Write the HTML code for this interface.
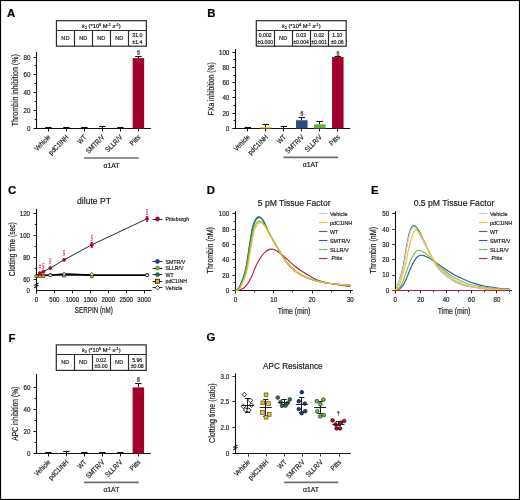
<!DOCTYPE html>
<html><head><meta charset="utf-8"><style>
html,body{margin:0;padding:0;background:#fff;}
svg{display:block;will-change:transform;}
text{font-family:"Liberation Sans",sans-serif;stroke-width:0.2px;}
</style></head><body>
<svg width="520" height="500" viewBox="0 0 520 500">
<rect x="0" y="0" width="520" height="500" fill="#fff"/>
<text x="7" y="16.6" font-size="11.4" text-anchor="start" fill="#000" font-weight="bold"  stroke="#000">A</text>
<text x="207.3" y="16.6" font-size="11.4" text-anchor="start" fill="#000" font-weight="bold"  stroke="#000">B</text>
<text x="8" y="194.1" font-size="11.4" text-anchor="start" fill="#000" font-weight="bold"  stroke="#000">C</text>
<text x="206.7" y="193.7" font-size="11.4" text-anchor="start" fill="#000" font-weight="bold"  stroke="#000">D</text>
<text x="371" y="194.1" font-size="11.4" text-anchor="start" fill="#000" font-weight="bold"  stroke="#000">E</text>
<text x="8.6" y="341.6" font-size="11.4" text-anchor="start" fill="#000" font-weight="bold"  stroke="#000">F</text>
<text x="206.6" y="341.2" font-size="11.4" text-anchor="start" fill="#000" font-weight="bold"  stroke="#000">G</text>
<rect x="56.45" y="20.7" width="89.9" height="25.5" fill="none" stroke="#2a2a2a" stroke-width="1.2"/>
<line x1="56.45" y1="30.5" x2="146.35" y2="30.5" stroke="#2a2a2a" stroke-width="1.15" />
<line x1="74.5" y1="30.5" x2="74.5" y2="46.2" stroke="#2a2a2a" stroke-width="1.15" />
<line x1="92.5" y1="30.5" x2="92.5" y2="46.2" stroke="#2a2a2a" stroke-width="1.15" />
<line x1="110.5" y1="30.5" x2="110.5" y2="46.2" stroke="#2a2a2a" stroke-width="1.15" />
<line x1="128.5" y1="30.5" x2="128.5" y2="46.2" stroke="#2a2a2a" stroke-width="1.15" />
<text x="101.4" y="27.7" font-size="5.4" text-anchor="middle" fill="#1e1e1e" textLength="38.7" lengthAdjust="spacingAndGlyphs" stroke="#1e1e1e"><tspan font-style="italic">k</tspan><tspan font-size="3.6" dy="1">2</tspan><tspan dy="-1"> (*10</tspan><tspan font-size="3.6" dy="-2.2">6</tspan><tspan dy="2.2"> M</tspan><tspan font-size="3.6" dy="-2.2">-1</tspan><tspan dy="2.2"> s</tspan><tspan font-size="3.6" dy="-2.2">-1</tspan><tspan dy="2.2">)</tspan></text>
<text x="65.4" y="40.1" font-size="5.2" text-anchor="middle" fill="#333" textLength="8.2" lengthAdjust="spacingAndGlyphs"  stroke="#333">ND</text>
<text x="83.3" y="40.1" font-size="5.2" text-anchor="middle" fill="#333" textLength="8.2" lengthAdjust="spacingAndGlyphs"  stroke="#333">ND</text>
<text x="101.25" y="40.1" font-size="5.2" text-anchor="middle" fill="#333" textLength="8.2" lengthAdjust="spacingAndGlyphs"  stroke="#333">ND</text>
<text x="119.3" y="40.1" font-size="5.2" text-anchor="middle" fill="#333" textLength="8.2" lengthAdjust="spacingAndGlyphs"  stroke="#333">ND</text>
<text x="137.35" y="37.4" font-size="5.2" text-anchor="middle" fill="#1e1e1e"  stroke="#1e1e1e">31.0</text>
<text x="137.35" y="43.5" font-size="5.2" text-anchor="middle" fill="#1e1e1e"  stroke="#1e1e1e">±1.4</text>
<rect x="256.3" y="20.7" width="89.9" height="25.5" fill="none" stroke="#2a2a2a" stroke-width="1.2"/>
<line x1="256.3" y1="30.5" x2="346.2" y2="30.5" stroke="#2a2a2a" stroke-width="1.15" />
<line x1="274.5" y1="30.5" x2="274.5" y2="46.2" stroke="#2a2a2a" stroke-width="1.15" />
<line x1="292.5" y1="30.5" x2="292.5" y2="46.2" stroke="#2a2a2a" stroke-width="1.15" />
<line x1="310.5" y1="30.5" x2="310.5" y2="46.2" stroke="#2a2a2a" stroke-width="1.15" />
<line x1="328.5" y1="30.5" x2="328.5" y2="46.2" stroke="#2a2a2a" stroke-width="1.15" />
<text x="301.25" y="27.7" font-size="5.4" text-anchor="middle" fill="#1e1e1e" textLength="38.7" lengthAdjust="spacingAndGlyphs" stroke="#1e1e1e"><tspan font-style="italic">k</tspan><tspan font-size="3.6" dy="1">2</tspan><tspan dy="-1"> (*10</tspan><tspan font-size="3.6" dy="-2.2">4</tspan><tspan dy="2.2"> M</tspan><tspan font-size="3.6" dy="-2.2">-1</tspan><tspan dy="2.2"> s</tspan><tspan font-size="3.6" dy="-2.2">-1</tspan><tspan dy="2.2">)</tspan></text>
<text x="265.25" y="37.4" font-size="5.2" text-anchor="middle" fill="#1e1e1e"  stroke="#1e1e1e">0.002</text>
<text x="265.25" y="43.5" font-size="5.2" text-anchor="middle" fill="#1e1e1e"  stroke="#1e1e1e">±0.000</text>
<text x="283.15" y="40.1" font-size="5.2" text-anchor="middle" fill="#333" textLength="8.2" lengthAdjust="spacingAndGlyphs"  stroke="#333">ND</text>
<text x="301.1" y="37.4" font-size="5.2" text-anchor="middle" fill="#1e1e1e"  stroke="#1e1e1e">0.03</text>
<text x="301.1" y="43.5" font-size="5.2" text-anchor="middle" fill="#1e1e1e"  stroke="#1e1e1e">±0.004</text>
<text x="319.15" y="37.4" font-size="5.2" text-anchor="middle" fill="#1e1e1e"  stroke="#1e1e1e">0.02</text>
<text x="319.15" y="43.5" font-size="5.2" text-anchor="middle" fill="#1e1e1e"  stroke="#1e1e1e">±0.001</text>
<text x="337.2" y="37.4" font-size="5.2" text-anchor="middle" fill="#1e1e1e"  stroke="#1e1e1e">1.10</text>
<text x="337.2" y="43.5" font-size="5.2" text-anchor="middle" fill="#1e1e1e"  stroke="#1e1e1e">±0.06</text>
<rect x="56.3" y="344.9" width="89.9" height="25.5" fill="none" stroke="#2a2a2a" stroke-width="1.2"/>
<line x1="56.3" y1="354.5" x2="146.2" y2="354.5" stroke="#2a2a2a" stroke-width="1.15" />
<line x1="74.5" y1="354.7" x2="74.5" y2="370.4" stroke="#2a2a2a" stroke-width="1.15" />
<line x1="92.5" y1="354.7" x2="92.5" y2="370.4" stroke="#2a2a2a" stroke-width="1.15" />
<line x1="110.5" y1="354.7" x2="110.5" y2="370.4" stroke="#2a2a2a" stroke-width="1.15" />
<line x1="128.5" y1="354.7" x2="128.5" y2="370.4" stroke="#2a2a2a" stroke-width="1.15" />
<text x="101.25" y="351.9" font-size="5.4" text-anchor="middle" fill="#1e1e1e" textLength="38.7" lengthAdjust="spacingAndGlyphs" stroke="#1e1e1e"><tspan font-style="italic">k</tspan><tspan font-size="3.6" dy="1">2</tspan><tspan dy="-1"> (*10</tspan><tspan font-size="3.6" dy="-2.2">6</tspan><tspan dy="2.2"> M</tspan><tspan font-size="3.6" dy="-2.2">-1</tspan><tspan dy="2.2"> s</tspan><tspan font-size="3.6" dy="-2.2">-1</tspan><tspan dy="2.2">)</tspan></text>
<text x="65.25" y="364.3" font-size="5.2" text-anchor="middle" fill="#333" textLength="8.2" lengthAdjust="spacingAndGlyphs"  stroke="#333">ND</text>
<text x="83.15" y="364.3" font-size="5.2" text-anchor="middle" fill="#333" textLength="8.2" lengthAdjust="spacingAndGlyphs"  stroke="#333">ND</text>
<text x="101.1" y="361.6" font-size="5.2" text-anchor="middle" fill="#1e1e1e"  stroke="#1e1e1e">0.02</text>
<text x="101.1" y="367.7" font-size="5.2" text-anchor="middle" fill="#1e1e1e"  stroke="#1e1e1e">±0.00</text>
<text x="119.15" y="364.3" font-size="5.2" text-anchor="middle" fill="#333" textLength="8.2" lengthAdjust="spacingAndGlyphs"  stroke="#333">ND</text>
<text x="137.2" y="361.6" font-size="5.2" text-anchor="middle" fill="#1e1e1e"  stroke="#1e1e1e">5.96</text>
<text x="137.2" y="367.7" font-size="5.2" text-anchor="middle" fill="#1e1e1e"  stroke="#1e1e1e">±0.08</text>
<line x1="36.5" y1="52" x2="36.5" y2="129" stroke="#111" stroke-width="1.1" />
<line x1="33.5" y1="128.5" x2="36.5" y2="128.5" stroke="#111" stroke-width="1" />
<text x="30.4" y="130.95" font-size="7" text-anchor="end" fill="#1e1e1e" textLength="3.45" lengthAdjust="spacingAndGlyphs"  stroke="#1e1e1e">0</text>
<line x1="33.5" y1="110.5" x2="36.5" y2="110.5" stroke="#111" stroke-width="1" />
<text x="30.4" y="113.09" font-size="7" text-anchor="end" fill="#1e1e1e" textLength="6.9" lengthAdjust="spacingAndGlyphs"  stroke="#1e1e1e">20</text>
<line x1="33.5" y1="92.5" x2="36.5" y2="92.5" stroke="#111" stroke-width="1" />
<text x="30.4" y="95.23" font-size="7" text-anchor="end" fill="#1e1e1e" textLength="6.9" lengthAdjust="spacingAndGlyphs"  stroke="#1e1e1e">40</text>
<line x1="33.5" y1="74.5" x2="36.5" y2="74.5" stroke="#111" stroke-width="1" />
<text x="30.4" y="77.37" font-size="7" text-anchor="end" fill="#1e1e1e" textLength="6.9" lengthAdjust="spacingAndGlyphs"  stroke="#1e1e1e">60</text>
<line x1="33.5" y1="57.5" x2="36.5" y2="57.5" stroke="#111" stroke-width="1" />
<text x="30.4" y="59.51" font-size="7" text-anchor="end" fill="#1e1e1e" textLength="6.9" lengthAdjust="spacingAndGlyphs"  stroke="#1e1e1e">80</text>
<line x1="34.7" y1="119.5" x2="36.5" y2="119.5" stroke="#111" stroke-width="1" />
<line x1="34.7" y1="101.5" x2="36.5" y2="101.5" stroke="#111" stroke-width="1" />
<line x1="34.7" y1="83.5" x2="36.5" y2="83.5" stroke="#111" stroke-width="1" />
<line x1="34.7" y1="65.5" x2="36.5" y2="65.5" stroke="#111" stroke-width="1" />
<line x1="36" y1="128.5" x2="150.8" y2="128.5" stroke="#111" stroke-width="1.1" />
<line x1="48.5" y1="128.5" x2="48.5" y2="131.5" stroke="#111" stroke-width="1" />
<line x1="66.5" y1="128.5" x2="66.5" y2="131.5" stroke="#111" stroke-width="1" />
<line x1="84.5" y1="128.5" x2="84.5" y2="131.5" stroke="#111" stroke-width="1" />
<line x1="102.5" y1="128.5" x2="102.5" y2="131.5" stroke="#111" stroke-width="1" />
<line x1="120.5" y1="128.5" x2="120.5" y2="131.5" stroke="#111" stroke-width="1" />
<line x1="138.5" y1="128.5" x2="138.5" y2="131.5" stroke="#111" stroke-width="1" />
<line x1="48.5" y1="127.43" x2="48.5" y2="128.14" stroke="#111" stroke-width="1" />
<line x1="45.2" y1="127.5" x2="51.6" y2="127.5" stroke="#111" stroke-width="1.1" />
<line x1="66.5" y1="127.6" x2="66.5" y2="128.32" stroke="#111" stroke-width="1" />
<line x1="63.2" y1="127.5" x2="69.6" y2="127.5" stroke="#111" stroke-width="1.1" />
<line x1="84.5" y1="127.52" x2="84.5" y2="128.23" stroke="#111" stroke-width="1" />
<line x1="81.2" y1="127.5" x2="87.6" y2="127.5" stroke="#111" stroke-width="1.1" />
<line x1="102.5" y1="126.71" x2="102.5" y2="128.32" stroke="#111" stroke-width="1" />
<line x1="99.2" y1="126.5" x2="105.6" y2="126.5" stroke="#111" stroke-width="1.1" />
<line x1="120.5" y1="127.6" x2="120.5" y2="128.41" stroke="#111" stroke-width="1" />
<line x1="117.2" y1="127.5" x2="123.6" y2="127.5" stroke="#111" stroke-width="1.1" />
<rect x="132.65" y="58.13" width="11.5" height="70.37" fill="#a1002b" stroke="none" stroke-width="0" />
<line x1="138.5" y1="56.35" x2="138.5" y2="58.13" stroke="#111" stroke-width="1" />
<line x1="135.2" y1="56.5" x2="141.6" y2="56.5" stroke="#111" stroke-width="1.1" />
<text x="138.5" y="54.35" font-size="5.9" text-anchor="middle" fill="#333"  stroke="#333">§</text>
<text x="51" y="137.7" font-size="7" text-anchor="end" fill="#1e1e1e" transform="rotate(-45 51 137.7)" textLength="19.67" lengthAdjust="spacingAndGlyphs"  stroke="#1e1e1e">Vehicle</text>
<text x="69" y="137.7" font-size="7" text-anchor="end" fill="#1e1e1e" transform="rotate(-45 69 137.7)" textLength="25.09" lengthAdjust="spacingAndGlyphs"  stroke="#1e1e1e">pdC1INH</text>
<text x="87" y="137.7" font-size="7" text-anchor="end" fill="#1e1e1e" transform="rotate(-45 87 137.7)" textLength="9.48" lengthAdjust="spacingAndGlyphs"  stroke="#1e1e1e">WT</text>
<text x="105" y="137.7" font-size="7" text-anchor="end" fill="#1e1e1e" transform="rotate(-45 105 137.7)" textLength="23.04" lengthAdjust="spacingAndGlyphs"  stroke="#1e1e1e">SMTR/V</text>
<text x="123" y="137.7" font-size="7" text-anchor="end" fill="#1e1e1e" transform="rotate(-45 123 137.7)" textLength="21.02" lengthAdjust="spacingAndGlyphs"  stroke="#1e1e1e">SLLR/V</text>
<text x="141" y="137.7" font-size="7" text-anchor="end" fill="#1e1e1e" transform="rotate(-45 141 137.7)" textLength="11.86" lengthAdjust="spacingAndGlyphs"  stroke="#1e1e1e">Pitts</text>
<line x1="84.1" y1="158" x2="138.7" y2="158" stroke="#707070" stroke-width="1.7" />
<text x="111.4" y="167.6" font-size="6.8" text-anchor="middle" fill="#1e1e1e"  stroke="#1e1e1e">α1AT</text>
<text x="18.2" y="90.25" font-size="8.2" text-anchor="middle" fill="#1e1e1e" transform="rotate(-90 18.2 90.25)" textLength="72" lengthAdjust="spacingAndGlyphs" stroke="#1e1e1e">Thrombin inhibition (%)</text>
<line x1="235.5" y1="49" x2="235.5" y2="128.9" stroke="#111" stroke-width="1.1" />
<line x1="232.4" y1="128.5" x2="235.4" y2="128.5" stroke="#111" stroke-width="1" />
<text x="229.3" y="130.85" font-size="7" text-anchor="end" fill="#1e1e1e" textLength="3.45" lengthAdjust="spacingAndGlyphs"  stroke="#1e1e1e">0</text>
<line x1="232.4" y1="113.5" x2="235.4" y2="113.5" stroke="#111" stroke-width="1" />
<text x="229.3" y="115.64" font-size="7" text-anchor="end" fill="#1e1e1e" textLength="6.9" lengthAdjust="spacingAndGlyphs"  stroke="#1e1e1e">20</text>
<line x1="232.4" y1="97.5" x2="235.4" y2="97.5" stroke="#111" stroke-width="1" />
<text x="229.3" y="100.43" font-size="7" text-anchor="end" fill="#1e1e1e" textLength="6.9" lengthAdjust="spacingAndGlyphs"  stroke="#1e1e1e">40</text>
<line x1="232.4" y1="82.5" x2="235.4" y2="82.5" stroke="#111" stroke-width="1" />
<text x="229.3" y="85.22" font-size="7" text-anchor="end" fill="#1e1e1e" textLength="6.9" lengthAdjust="spacingAndGlyphs"  stroke="#1e1e1e">60</text>
<line x1="232.4" y1="67.5" x2="235.4" y2="67.5" stroke="#111" stroke-width="1" />
<text x="229.3" y="70.01" font-size="7" text-anchor="end" fill="#1e1e1e" textLength="6.9" lengthAdjust="spacingAndGlyphs"  stroke="#1e1e1e">80</text>
<line x1="232.4" y1="52.5" x2="235.4" y2="52.5" stroke="#111" stroke-width="1" />
<text x="229.3" y="54.8" font-size="7" text-anchor="end" fill="#1e1e1e" textLength="10.35" lengthAdjust="spacingAndGlyphs"  stroke="#1e1e1e">100</text>
<line x1="233.6" y1="120.5" x2="235.4" y2="120.5" stroke="#111" stroke-width="1" />
<line x1="233.6" y1="105.5" x2="235.4" y2="105.5" stroke="#111" stroke-width="1" />
<line x1="233.6" y1="90.5" x2="235.4" y2="90.5" stroke="#111" stroke-width="1" />
<line x1="233.6" y1="75.5" x2="235.4" y2="75.5" stroke="#111" stroke-width="1" />
<line x1="233.6" y1="59.5" x2="235.4" y2="59.5" stroke="#111" stroke-width="1" />
<line x1="234.9" y1="128.5" x2="350.2" y2="128.5" stroke="#111" stroke-width="1.1" />
<line x1="247.5" y1="128.4" x2="247.5" y2="131.4" stroke="#111" stroke-width="1" />
<line x1="265.5" y1="128.4" x2="265.5" y2="131.4" stroke="#111" stroke-width="1" />
<line x1="283.5" y1="128.4" x2="283.5" y2="131.4" stroke="#111" stroke-width="1" />
<line x1="301.5" y1="128.4" x2="301.5" y2="131.4" stroke="#111" stroke-width="1" />
<line x1="319.5" y1="128.4" x2="319.5" y2="131.4" stroke="#111" stroke-width="1" />
<line x1="337.5" y1="128.4" x2="337.5" y2="131.4" stroke="#111" stroke-width="1" />
<line x1="247.5" y1="127.41" x2="247.5" y2="128.17" stroke="#111" stroke-width="1" />
<line x1="244.6" y1="127.5" x2="251" y2="127.5" stroke="#111" stroke-width="1.1" />
<rect x="260.05" y="127.18" width="11.5" height="1.22" fill="#efb400" stroke="none" stroke-width="0" />
<line x1="265.5" y1="124.29" x2="265.5" y2="127.18" stroke="#111" stroke-width="1" />
<line x1="262.6" y1="124.5" x2="269" y2="124.5" stroke="#111" stroke-width="1.1" />
<line x1="283.5" y1="126.5" x2="283.5" y2="128.32" stroke="#111" stroke-width="1" />
<line x1="280.6" y1="126.5" x2="287" y2="126.5" stroke="#111" stroke-width="1.1" />
<rect x="296.05" y="120.26" width="11.5" height="8.14" fill="#2b4b86" stroke="none" stroke-width="0" />
<line x1="301.5" y1="117.07" x2="301.5" y2="120.26" stroke="#111" stroke-width="1" />
<line x1="298.6" y1="117.5" x2="305" y2="117.5" stroke="#111" stroke-width="1.1" />
<text x="301.9" y="115.07" font-size="5.9" text-anchor="middle" fill="#333"  stroke="#333">§</text>
<rect x="314.05" y="124.29" width="11.5" height="4.11" fill="#6aac3c" stroke="none" stroke-width="0" />
<line x1="319.5" y1="121.56" x2="319.5" y2="124.29" stroke="#111" stroke-width="1" />
<line x1="316.6" y1="121.5" x2="323" y2="121.5" stroke="#111" stroke-width="1.1" />
<rect x="332.05" y="57.07" width="11.5" height="71.33" fill="#a1002b" stroke="none" stroke-width="0" />
<line x1="337.5" y1="56.53" x2="337.5" y2="57.07" stroke="#111" stroke-width="1" />
<line x1="334.6" y1="56.5" x2="341" y2="56.5" stroke="#111" stroke-width="1.1" />
<text x="337.9" y="54.53" font-size="5.9" text-anchor="middle" fill="#333"  stroke="#333">§</text>
<text x="250.4" y="137.6" font-size="7" text-anchor="end" fill="#1e1e1e" transform="rotate(-45 250.4 137.6)" textLength="19.67" lengthAdjust="spacingAndGlyphs"  stroke="#1e1e1e">Vehicle</text>
<text x="268.4" y="137.6" font-size="7" text-anchor="end" fill="#1e1e1e" transform="rotate(-45 268.4 137.6)" textLength="25.09" lengthAdjust="spacingAndGlyphs"  stroke="#1e1e1e">pdC1INH</text>
<text x="286.4" y="137.6" font-size="7" text-anchor="end" fill="#1e1e1e" transform="rotate(-45 286.4 137.6)" textLength="9.48" lengthAdjust="spacingAndGlyphs"  stroke="#1e1e1e">WT</text>
<text x="304.4" y="137.6" font-size="7" text-anchor="end" fill="#1e1e1e" transform="rotate(-45 304.4 137.6)" textLength="23.04" lengthAdjust="spacingAndGlyphs"  stroke="#1e1e1e">SMTR/V</text>
<text x="322.4" y="137.6" font-size="7" text-anchor="end" fill="#1e1e1e" transform="rotate(-45 322.4 137.6)" textLength="21.02" lengthAdjust="spacingAndGlyphs"  stroke="#1e1e1e">SLLR/V</text>
<text x="340.4" y="137.6" font-size="7" text-anchor="end" fill="#1e1e1e" transform="rotate(-45 340.4 137.6)" textLength="11.86" lengthAdjust="spacingAndGlyphs"  stroke="#1e1e1e">Pitts</text>
<line x1="283.5" y1="157.4" x2="338.1" y2="157.4" stroke="#707070" stroke-width="1.7" />
<text x="310.8" y="167" font-size="6.8" text-anchor="middle" fill="#1e1e1e"  stroke="#1e1e1e">α1AT</text>
<text x="213.6" y="88.7" font-size="8.2" text-anchor="middle" fill="#1e1e1e" transform="rotate(-90 213.6 88.7)" textLength="53" lengthAdjust="spacingAndGlyphs" stroke="#1e1e1e">FXa inhibition (%)</text>
<line x1="36.5" y1="374" x2="36.5" y2="453.95" stroke="#111" stroke-width="1.1" />
<line x1="33.45" y1="453.5" x2="36.45" y2="453.5" stroke="#111" stroke-width="1" />
<text x="30.35" y="455.9" font-size="7" text-anchor="end" fill="#1e1e1e" textLength="3.45" lengthAdjust="spacingAndGlyphs"  stroke="#1e1e1e">0</text>
<line x1="33.45" y1="431.5" x2="36.45" y2="431.5" stroke="#111" stroke-width="1" />
<text x="30.35" y="434" font-size="7" text-anchor="end" fill="#1e1e1e" textLength="6.9" lengthAdjust="spacingAndGlyphs"  stroke="#1e1e1e">20</text>
<line x1="33.45" y1="409.5" x2="36.45" y2="409.5" stroke="#111" stroke-width="1" />
<text x="30.35" y="412.1" font-size="7" text-anchor="end" fill="#1e1e1e" textLength="6.9" lengthAdjust="spacingAndGlyphs"  stroke="#1e1e1e">40</text>
<line x1="33.45" y1="387.5" x2="36.45" y2="387.5" stroke="#111" stroke-width="1" />
<text x="30.35" y="390.2" font-size="7" text-anchor="end" fill="#1e1e1e" textLength="6.9" lengthAdjust="spacingAndGlyphs"  stroke="#1e1e1e">60</text>
<line x1="34.65" y1="442.5" x2="36.45" y2="442.5" stroke="#111" stroke-width="1" />
<line x1="34.65" y1="420.5" x2="36.45" y2="420.5" stroke="#111" stroke-width="1" />
<line x1="34.65" y1="398.5" x2="36.45" y2="398.5" stroke="#111" stroke-width="1" />
<line x1="35.95" y1="453.5" x2="150.8" y2="453.5" stroke="#111" stroke-width="1.1" />
<line x1="48.5" y1="453.45" x2="48.5" y2="456.45" stroke="#111" stroke-width="1" />
<line x1="66.5" y1="453.45" x2="66.5" y2="456.45" stroke="#111" stroke-width="1" />
<line x1="84.5" y1="453.45" x2="84.5" y2="456.45" stroke="#111" stroke-width="1" />
<line x1="102.5" y1="453.45" x2="102.5" y2="456.45" stroke="#111" stroke-width="1" />
<line x1="120.5" y1="453.45" x2="120.5" y2="456.45" stroke="#111" stroke-width="1" />
<line x1="138.5" y1="453.45" x2="138.5" y2="456.45" stroke="#111" stroke-width="1" />
<line x1="48.5" y1="452.55" x2="48.5" y2="453.23" stroke="#111" stroke-width="1" />
<line x1="45.15" y1="452.5" x2="51.55" y2="452.5" stroke="#111" stroke-width="1.1" />
<line x1="66.5" y1="451.92" x2="66.5" y2="453.23" stroke="#111" stroke-width="1" />
<line x1="63.15" y1="451.5" x2="69.55" y2="451.5" stroke="#111" stroke-width="1.1" />
<line x1="84.5" y1="452.14" x2="84.5" y2="453.23" stroke="#111" stroke-width="1" />
<line x1="81.15" y1="452.5" x2="87.55" y2="452.5" stroke="#111" stroke-width="1.1" />
<line x1="102.5" y1="452.55" x2="102.5" y2="453.12" stroke="#111" stroke-width="1" />
<line x1="99.15" y1="452.5" x2="105.55" y2="452.5" stroke="#111" stroke-width="1.1" />
<line x1="120.5" y1="452.46" x2="120.5" y2="453.23" stroke="#111" stroke-width="1" />
<line x1="117.15" y1="452.5" x2="123.55" y2="452.5" stroke="#111" stroke-width="1.1" />
<rect x="132.6" y="387.42" width="11.5" height="66.03" fill="#a1002b" stroke="none" stroke-width="0" />
<line x1="138.5" y1="383.37" x2="138.5" y2="387.42" stroke="#111" stroke-width="1" />
<line x1="135.15" y1="383.5" x2="141.55" y2="383.5" stroke="#111" stroke-width="1.1" />
<text x="138.45" y="381.37" font-size="5.9" text-anchor="middle" fill="#333"  stroke="#333">§</text>
<text x="50.95" y="462.65" font-size="7" text-anchor="end" fill="#1e1e1e" transform="rotate(-45 50.95 462.65)" textLength="19.67" lengthAdjust="spacingAndGlyphs"  stroke="#1e1e1e">Vehicle</text>
<text x="68.95" y="462.65" font-size="7" text-anchor="end" fill="#1e1e1e" transform="rotate(-45 68.95 462.65)" textLength="25.09" lengthAdjust="spacingAndGlyphs"  stroke="#1e1e1e">pdC1INH</text>
<text x="86.95" y="462.65" font-size="7" text-anchor="end" fill="#1e1e1e" transform="rotate(-45 86.95 462.65)" textLength="9.48" lengthAdjust="spacingAndGlyphs"  stroke="#1e1e1e">WT</text>
<text x="104.95" y="462.65" font-size="7" text-anchor="end" fill="#1e1e1e" transform="rotate(-45 104.95 462.65)" textLength="23.04" lengthAdjust="spacingAndGlyphs"  stroke="#1e1e1e">SMTR/V</text>
<text x="122.95" y="462.65" font-size="7" text-anchor="end" fill="#1e1e1e" transform="rotate(-45 122.95 462.65)" textLength="21.02" lengthAdjust="spacingAndGlyphs"  stroke="#1e1e1e">SLLR/V</text>
<text x="140.95" y="462.65" font-size="7" text-anchor="end" fill="#1e1e1e" transform="rotate(-45 140.95 462.65)" textLength="11.86" lengthAdjust="spacingAndGlyphs"  stroke="#1e1e1e">Pitts</text>
<line x1="84.05" y1="482.4" x2="138.65" y2="482.4" stroke="#707070" stroke-width="1.7" />
<text x="111.35" y="492" font-size="6.8" text-anchor="middle" fill="#1e1e1e"  stroke="#1e1e1e">α1AT</text>
<text x="18.2" y="413.73" font-size="8.2" text-anchor="middle" fill="#1e1e1e" transform="rotate(-90 18.2 413.73)" textLength="54" lengthAdjust="spacingAndGlyphs" stroke="#1e1e1e">APC inhibition (%)</text>
<line x1="36.5" y1="208.8" x2="36.5" y2="293.45" stroke="#111" stroke-width="1.1" />
<path d="M34.2,285.6 L38.4,283.2 M34.2,287.7 L38.4,285.3" stroke="#111" stroke-width="1.1" fill="none"/>
<line x1="33.45" y1="279.5" x2="36.45" y2="279.5" stroke="#111" stroke-width="0.9" />
<text x="30.05" y="281.55" font-size="7" text-anchor="end" fill="#1e1e1e" textLength="6.9" lengthAdjust="spacingAndGlyphs"  stroke="#1e1e1e">60</text>
<line x1="33.45" y1="257.5" x2="36.45" y2="257.5" stroke="#111" stroke-width="0.9" />
<text x="30.05" y="259.55" font-size="7" text-anchor="end" fill="#1e1e1e" textLength="6.9" lengthAdjust="spacingAndGlyphs"  stroke="#1e1e1e">80</text>
<line x1="33.45" y1="235.5" x2="36.45" y2="235.5" stroke="#111" stroke-width="0.9" />
<text x="30.05" y="237.55" font-size="7" text-anchor="end" fill="#1e1e1e" textLength="10.35" lengthAdjust="spacingAndGlyphs"  stroke="#1e1e1e">100</text>
<line x1="33.45" y1="213.5" x2="36.45" y2="213.5" stroke="#111" stroke-width="0.9" />
<text x="30.05" y="215.55" font-size="7" text-anchor="end" fill="#1e1e1e" textLength="10.35" lengthAdjust="spacingAndGlyphs"  stroke="#1e1e1e">120</text>
<line x1="34.65" y1="268.5" x2="36.45" y2="268.5" stroke="#111" stroke-width="0.9" />
<line x1="34.65" y1="246.5" x2="36.45" y2="246.5" stroke="#111" stroke-width="0.9" />
<line x1="34.65" y1="224.5" x2="36.45" y2="224.5" stroke="#111" stroke-width="0.9" />
<text x="30.05" y="292.9" font-size="7" text-anchor="end" fill="#1e1e1e" textLength="3.45" lengthAdjust="spacingAndGlyphs"  stroke="#1e1e1e">0</text>
<line x1="35.95" y1="290.5" x2="151.5" y2="290.5" stroke="#111" stroke-width="1.1" />
<line x1="36.5" y1="290.45" x2="36.5" y2="293.45" stroke="#111" stroke-width="0.9" />
<text x="36.45" y="301.75" font-size="6.8" text-anchor="middle" fill="#1e1e1e" textLength="3.4" lengthAdjust="spacingAndGlyphs"  stroke="#1e1e1e">0</text>
<line x1="54.5" y1="290.45" x2="54.5" y2="293.45" stroke="#111" stroke-width="0.9" />
<text x="54.4" y="301.75" font-size="6.8" text-anchor="middle" fill="#1e1e1e" textLength="10.2" lengthAdjust="spacingAndGlyphs"  stroke="#1e1e1e">500</text>
<line x1="72.5" y1="290.45" x2="72.5" y2="293.45" stroke="#111" stroke-width="0.9" />
<text x="72.35" y="301.75" font-size="6.8" text-anchor="middle" fill="#1e1e1e" textLength="13.6" lengthAdjust="spacingAndGlyphs"  stroke="#1e1e1e">1000</text>
<line x1="90.5" y1="290.45" x2="90.5" y2="293.45" stroke="#111" stroke-width="0.9" />
<text x="90.3" y="301.75" font-size="6.8" text-anchor="middle" fill="#1e1e1e" textLength="13.6" lengthAdjust="spacingAndGlyphs"  stroke="#1e1e1e">1500</text>
<line x1="108.5" y1="290.45" x2="108.5" y2="293.45" stroke="#111" stroke-width="0.9" />
<text x="108.25" y="301.75" font-size="6.8" text-anchor="middle" fill="#1e1e1e" textLength="13.6" lengthAdjust="spacingAndGlyphs"  stroke="#1e1e1e">2000</text>
<line x1="126.5" y1="290.45" x2="126.5" y2="293.45" stroke="#111" stroke-width="0.9" />
<text x="126.2" y="301.75" font-size="6.8" text-anchor="middle" fill="#1e1e1e" textLength="13.6" lengthAdjust="spacingAndGlyphs"  stroke="#1e1e1e">2500</text>
<line x1="144.5" y1="290.45" x2="144.5" y2="293.45" stroke="#111" stroke-width="0.9" />
<text x="144.15" y="301.75" font-size="6.8" text-anchor="middle" fill="#1e1e1e" textLength="13.6" lengthAdjust="spacingAndGlyphs"  stroke="#1e1e1e">3000</text>
<text x="93.8" y="313.4" font-size="8.5" text-anchor="middle" fill="#1e1e1e" textLength="38" lengthAdjust="spacingAndGlyphs"  stroke="#1e1e1e">SERPIN (nM)</text>
<text x="14.6" y="249.2" font-size="8.3" text-anchor="middle" fill="#1e1e1e" transform="rotate(-90 14.6 249.2)" textLength="54" lengthAdjust="spacingAndGlyphs" stroke="#1e1e1e">Clotting time (sec)</text>
<text x="94" y="203.9" font-size="8.4" text-anchor="middle" fill="#1e1e1e" textLength="33.8" lengthAdjust="spacingAndGlyphs"  stroke="#1e1e1e">dilute PT</text>
<polyline points="36.45,275.47 39.9,275.14 43.34,275.25 50.27,275.14 64.09,274.7 91.74,275.14 147.02,275.14" fill="none" stroke="#000" stroke-width="1.7"/>
<polyline points="50.27,275.14 64.09,273.6 91.74,274.81" fill="none" stroke="#000" stroke-width="0.9"/>
<polyline points="36.45,275.36 39.9,273.16 43.34,271.73 50.27,268.1 64.09,259.85 91.74,244.78 147.02,218.82" fill="none" stroke="#111" stroke-width="0.9"/>
<rect x="34.95" y="275.07" width="3.0" height="2.7" fill="#f0b800" stroke="#222" stroke-width="0.6"/>
<rect x="38.4" y="274.74" width="3.0" height="2.7" fill="#f0b800" stroke="#222" stroke-width="0.6"/>
<rect x="41.84" y="274.85" width="3.0" height="2.7" fill="#f0b800" stroke="#222" stroke-width="0.6"/>
<rect x="62.59" y="274.3" width="3.0" height="2.7" fill="#f0b800" stroke="#222" stroke-width="0.6"/>
<rect x="90.24" y="274.74" width="3.0" height="2.7" fill="#f0b800" stroke="#222" stroke-width="0.6"/>
<path d="M39.9,272.54 l1.6,1.8 l-1.6,1.4 l-1.6,-1.4z" fill="#fff" stroke="#111" stroke-width="0.7"/>
<circle cx="50.27" cy="274.24" r="1.5" fill="#2f7a4f"/>
<ellipse cx="50.27" cy="275.24" rx="1.8" ry="1.4" fill="#fff" stroke="#111" stroke-width="0.9"/>
<path d="M64.09,272.1 l1.6,1.8 l-1.6,1.4 l-1.6,-1.4z" fill="#fff" stroke="#111" stroke-width="0.7"/>
<path d="M91.74,272.54 l1.6,1.8 l-1.6,1.4 l-1.6,-1.4z" fill="#fff" stroke="#111" stroke-width="0.7"/>
<circle cx="147.02" cy="274.24" r="1.5" fill="#2f7a4f"/>
<ellipse cx="147.02" cy="275.24" rx="1.8" ry="1.4" fill="#fff" stroke="#111" stroke-width="0.9"/>
<circle cx="39.9" cy="273.16" r="1.9" fill="#b4002e"/>
<circle cx="43.34" cy="271.73" r="1.9" fill="#b4002e"/>
<circle cx="50.27" cy="268.1" r="1.9" fill="#b4002e"/>
<circle cx="64.09" cy="259.85" r="1.9" fill="#b4002e"/>
<line x1="91.5" y1="242.08" x2="91.5" y2="247.48" stroke="#b4002e" stroke-width="0.8" />
<line x1="90.54" y1="242.5" x2="92.94" y2="242.5" stroke="#b4002e" stroke-width="0.8" />
<line x1="90.54" y1="247.5" x2="92.94" y2="247.5" stroke="#b4002e" stroke-width="0.8" />
<circle cx="91.74" cy="244.78" r="1.9" fill="#b4002e"/>
<line x1="147.5" y1="216.12" x2="147.5" y2="221.52" stroke="#b4002e" stroke-width="0.8" />
<line x1="145.82" y1="216.5" x2="148.22" y2="216.5" stroke="#b4002e" stroke-width="0.8" />
<line x1="145.82" y1="221.5" x2="148.22" y2="221.5" stroke="#b4002e" stroke-width="0.8" />
<circle cx="147.02" cy="218.82" r="1.9" fill="#b4002e"/>
<text x="39.9" y="268.68" font-size="6.4" text-anchor="middle" fill="#b4002e" textLength="2.56" lengthAdjust="spacingAndGlyphs" stroke-width="0" style="stroke-width:0;font-style:italic" stroke="#b4002e">#</text>
<text x="43.34" y="268.46" font-size="6.4" text-anchor="middle" fill="#b4002e" textLength="2.56" lengthAdjust="spacingAndGlyphs" stroke-width="0" style="stroke-width:0;font-style:italic" stroke="#b4002e">§</text>
<text x="50.27" y="263.07" font-size="6.4" text-anchor="middle" fill="#b4002e" textLength="2.56" lengthAdjust="spacingAndGlyphs" stroke-width="0" style="stroke-width:0;font-style:italic" stroke="#b4002e">§</text>
<text x="64.09" y="254.82" font-size="6.4" text-anchor="middle" fill="#b4002e" textLength="2.56" lengthAdjust="spacingAndGlyphs" stroke-width="0" style="stroke-width:0;font-style:italic" stroke="#b4002e">§</text>
<text x="91.74" y="239.75" font-size="6.4" text-anchor="middle" fill="#b4002e" textLength="2.56" lengthAdjust="spacingAndGlyphs" stroke-width="0" style="stroke-width:0;font-style:italic" stroke="#b4002e">§</text>
<text x="147.02" y="213.9" font-size="6.4" text-anchor="middle" fill="#b4002e" textLength="2.56" lengthAdjust="spacingAndGlyphs" stroke-width="0" style="stroke-width:0;font-style:italic" stroke="#b4002e">§</text>
<line x1="152.6" y1="219.5" x2="162.4" y2="219.5" stroke="#111" stroke-width="0.9" />
<circle cx="157.5" cy="219" r="2.15" fill="#b4002e" stroke="#222" stroke-width="0.3"/>
<text x="165.5" y="221" font-size="5.7" text-anchor="start" fill="#1e1e1e" textLength="23.64" lengthAdjust="spacingAndGlyphs"  stroke="#1e1e1e">Pittsburgh</text>
<line x1="152.6" y1="261.5" x2="162.4" y2="261.5" stroke="#111" stroke-width="0.9" />
<circle cx="157.5" cy="261.5" r="2.15" fill="#1f3f8c" stroke="#222" stroke-width="0.3"/>
<text x="165.5" y="263.5" font-size="5.7" text-anchor="start" fill="#1e1e1e" textLength="19.83" lengthAdjust="spacingAndGlyphs"  stroke="#1e1e1e">SMTR/V</text>
<line x1="152.6" y1="268.5" x2="162.4" y2="268.5" stroke="#111" stroke-width="0.9" />
<circle cx="157.5" cy="268.1" r="2.15" fill="#66bb3a" stroke="#222" stroke-width="0.3"/>
<text x="165.5" y="270.1" font-size="5.7" text-anchor="start" fill="#1e1e1e" textLength="18.09" lengthAdjust="spacingAndGlyphs"  stroke="#1e1e1e">SLLR/V</text>
<line x1="152.6" y1="274.5" x2="162.4" y2="274.5" stroke="#111" stroke-width="0.9" />
<circle cx="157.5" cy="274.7" r="2.15" fill="#2a6a4a" stroke="#222" stroke-width="0.3"/>
<text x="165.5" y="276.7" font-size="5.7" text-anchor="start" fill="#1e1e1e" textLength="8.16" lengthAdjust="spacingAndGlyphs"  stroke="#1e1e1e">WT</text>
<line x1="152.6" y1="281.5" x2="162.4" y2="281.5" stroke="#111" stroke-width="0.9" />
<rect x="155.5" y="279.2" width="4.0" height="4.0" fill="#f0b800" stroke="#111" stroke-width="0.8"/>
<text x="165.5" y="283.2" font-size="5.7" text-anchor="start" fill="#1e1e1e" textLength="21.59" lengthAdjust="spacingAndGlyphs"  stroke="#1e1e1e">pdC1INH</text>
<line x1="152.6" y1="287.5" x2="162.4" y2="287.5" stroke="#111" stroke-width="0.9" />
<path d="M157.5,285.5 l2.2,2.2 l-2.2,2.2 l-2.2,-2.2z" fill="#fff" stroke="#111" stroke-width="0.8"/>
<text x="165.5" y="289.7" font-size="5.7" text-anchor="start" fill="#1e1e1e" textLength="16.93" lengthAdjust="spacingAndGlyphs"  stroke="#1e1e1e">Vehicle</text>
<line x1="235.5" y1="211.2" x2="235.5" y2="291" stroke="#111" stroke-width="1.1" />
<line x1="232.4" y1="290.5" x2="235.4" y2="290.5" stroke="#111" stroke-width="0.9" />
<text x="229.2" y="292.95" font-size="7" text-anchor="end" fill="#1e1e1e" textLength="3.45" lengthAdjust="spacingAndGlyphs"  stroke="#1e1e1e">0</text>
<line x1="232.4" y1="275.5" x2="235.4" y2="275.5" stroke="#111" stroke-width="0.9" />
<text x="229.2" y="277.6" font-size="7" text-anchor="end" fill="#1e1e1e" textLength="6.9" lengthAdjust="spacingAndGlyphs"  stroke="#1e1e1e">20</text>
<line x1="232.4" y1="259.5" x2="235.4" y2="259.5" stroke="#111" stroke-width="0.9" />
<text x="229.2" y="262.25" font-size="7" text-anchor="end" fill="#1e1e1e" textLength="6.9" lengthAdjust="spacingAndGlyphs"  stroke="#1e1e1e">40</text>
<line x1="232.4" y1="244.5" x2="235.4" y2="244.5" stroke="#111" stroke-width="0.9" />
<text x="229.2" y="246.9" font-size="7" text-anchor="end" fill="#1e1e1e" textLength="6.9" lengthAdjust="spacingAndGlyphs"  stroke="#1e1e1e">60</text>
<line x1="232.4" y1="229.5" x2="235.4" y2="229.5" stroke="#111" stroke-width="0.9" />
<text x="229.2" y="231.55" font-size="7" text-anchor="end" fill="#1e1e1e" textLength="6.9" lengthAdjust="spacingAndGlyphs"  stroke="#1e1e1e">80</text>
<line x1="232.4" y1="213.5" x2="235.4" y2="213.5" stroke="#111" stroke-width="0.9" />
<text x="229.2" y="216.2" font-size="7" text-anchor="end" fill="#1e1e1e" textLength="10.35" lengthAdjust="spacingAndGlyphs"  stroke="#1e1e1e">100</text>
<line x1="233.6" y1="282.5" x2="235.4" y2="282.5" stroke="#111" stroke-width="0.9" />
<line x1="233.6" y1="267.5" x2="235.4" y2="267.5" stroke="#111" stroke-width="0.9" />
<line x1="233.6" y1="252.5" x2="235.4" y2="252.5" stroke="#111" stroke-width="0.9" />
<line x1="233.6" y1="236.5" x2="235.4" y2="236.5" stroke="#111" stroke-width="0.9" />
<line x1="233.6" y1="221.5" x2="235.4" y2="221.5" stroke="#111" stroke-width="0.9" />
<line x1="234.9" y1="290.5" x2="352.8" y2="290.5" stroke="#111" stroke-width="1.1" />
<line x1="235.5" y1="290.5" x2="235.5" y2="293.5" stroke="#111" stroke-width="0.9" />
<text x="235.4" y="301.8" font-size="6.8" text-anchor="middle" fill="#1e1e1e" textLength="3.4" lengthAdjust="spacingAndGlyphs"  stroke="#1e1e1e">0</text>
<line x1="273.5" y1="290.5" x2="273.5" y2="293.5" stroke="#111" stroke-width="0.9" />
<text x="273.7" y="301.8" font-size="6.8" text-anchor="middle" fill="#1e1e1e" textLength="6.8" lengthAdjust="spacingAndGlyphs"  stroke="#1e1e1e">10</text>
<line x1="312.5" y1="290.5" x2="312.5" y2="293.5" stroke="#111" stroke-width="0.9" />
<text x="312" y="301.8" font-size="6.8" text-anchor="middle" fill="#1e1e1e" textLength="6.8" lengthAdjust="spacingAndGlyphs"  stroke="#1e1e1e">20</text>
<line x1="350.5" y1="290.5" x2="350.5" y2="293.5" stroke="#111" stroke-width="0.9" />
<text x="350.3" y="301.8" font-size="6.8" text-anchor="middle" fill="#1e1e1e" textLength="6.8" lengthAdjust="spacingAndGlyphs"  stroke="#1e1e1e">30</text>
<line x1="254.5" y1="290.5" x2="254.5" y2="292.3" stroke="#111" stroke-width="0.9" />
<line x1="292.5" y1="290.5" x2="292.5" y2="292.3" stroke="#111" stroke-width="0.9" />
<line x1="331.5" y1="290.5" x2="331.5" y2="292.3" stroke="#111" stroke-width="0.9" />
<text x="294.2" y="206.2" font-size="8.9" text-anchor="middle" fill="#1e1e1e" textLength="72.7" lengthAdjust="spacingAndGlyphs"  stroke="#1e1e1e">5 pM Tissue Factor</text>
<text x="213.4" y="250.2" font-size="8.4" text-anchor="middle" fill="#1e1e1e" transform="rotate(-90 213.4 250.2)" textLength="46.4" lengthAdjust="spacingAndGlyphs" stroke="#1e1e1e">Thrombin (nM)</text>
<text x="294" y="313.9" font-size="8.6" text-anchor="middle" fill="#1e1e1e" textLength="32.7" lengthAdjust="spacingAndGlyphs"  stroke="#1e1e1e">Time (min)</text>
<line x1="319" y1="213.5" x2="327.4" y2="213.5" stroke="#cdcdd2" stroke-width="1.1" />
<text x="330" y="215.7" font-size="6" text-anchor="start" fill="#1e1e1e" textLength="17.41" lengthAdjust="spacingAndGlyphs"  stroke="#1e1e1e">Vehicle</text>
<line x1="319" y1="222.5" x2="327.4" y2="222.5" stroke="#f0c030" stroke-width="1.1" />
<text x="330" y="224.8" font-size="6" text-anchor="start" fill="#1e1e1e" textLength="22.21" lengthAdjust="spacingAndGlyphs"  stroke="#1e1e1e">pdC1INH</text>
<line x1="319" y1="231.5" x2="327.4" y2="231.5" stroke="#3a7560" stroke-width="1.1" />
<text x="330" y="233.5" font-size="6" text-anchor="start" fill="#1e1e1e" textLength="8.4" lengthAdjust="spacingAndGlyphs"  stroke="#1e1e1e">WT</text>
<line x1="319" y1="240.5" x2="327.4" y2="240.5" stroke="#2e58a0" stroke-width="1.1" />
<text x="330" y="242.5" font-size="6" text-anchor="start" fill="#1e1e1e" textLength="20.4" lengthAdjust="spacingAndGlyphs"  stroke="#1e1e1e">SMTR/V</text>
<line x1="319" y1="249.5" x2="327.4" y2="249.5" stroke="#7cbf4c" stroke-width="1.1" />
<text x="330" y="251.5" font-size="6" text-anchor="start" fill="#1e1e1e" textLength="18.61" lengthAdjust="spacingAndGlyphs"  stroke="#1e1e1e">SLLR/V</text>
<line x1="319" y1="258.5" x2="327.4" y2="258.5" stroke="#bd1a44" stroke-width="1.1" />
<text x="331.6" y="260.2" font-size="6" text-anchor="start" fill="#1e1e1e" textLength="10.5" lengthAdjust="spacingAndGlyphs"  stroke="#1e1e1e">Pitts</text>
<path d="M235.4,290.5 C236.04,290.37 237.89,290.12 239.23,289.73 C240.57,289.35 242.04,289.2 243.44,288.2 C244.85,287.2 246.26,285.73 247.66,283.75 C249.05,281.76 250.58,278.9 251.79,276.3 C253.01,273.7 253.9,270.56 254.93,268.17 C255.97,265.77 256.98,263.84 258,261.95 C259.02,260.06 259.91,258.39 261.06,256.81 C262.21,255.22 263.74,253.54 264.89,252.43 C266.04,251.32 266.84,250.68 267.95,250.13 C269.07,249.58 270.51,249.21 271.59,249.13 C272.68,249.06 273.54,249.32 274.47,249.67 C275.39,250.01 276,250.46 277.15,251.2 C278.3,251.95 279.89,252.94 281.36,254.12 C282.83,255.3 284.49,256.93 285.96,258.26 C287.42,259.6 288.7,260.82 290.17,262.1 C291.64,263.38 293.46,264.87 294.76,265.94 C296.07,267.01 296.17,267.23 298.02,268.55 C299.87,269.87 303.29,272.25 305.87,273.85 C308.46,275.44 311.23,276.98 313.53,278.14 C315.83,279.31 317.75,280.13 319.66,280.83 C321.58,281.53 323.23,281.92 325.02,282.36 C326.81,282.81 327.77,283.06 330.38,283.52 C333,283.98 337.41,284.65 340.73,285.13 C344.04,285.6 348.7,286.15 350.3,286.36" fill="none" stroke="#bd1a44" stroke-width="1.15"/>
<path d="M235.97,290.5 C236.29,290.37 237.25,290.22 237.89,289.74 C238.53,289.27 238.97,289.11 239.8,287.63 C240.63,286.14 241.91,283.31 242.87,280.82 C243.83,278.34 244.76,275.72 245.55,272.73 C246.34,269.75 247.02,266.18 247.62,262.91 C248.22,259.63 248.63,256.42 249.15,253.08 C249.67,249.74 250.11,246.84 250.76,242.87 C251.41,238.9 252.33,232.6 253.06,229.27 C253.78,225.93 254.46,224.48 255.12,222.84 C255.79,221.2 256.34,220.27 257.04,219.44 C257.74,218.61 258.57,217.98 259.34,217.85 C260.1,217.72 260.88,218.06 261.64,218.68 C262.39,219.3 263.07,220.24 263.85,221.55 C264.63,222.85 265.68,225.06 266.33,226.51 C266.98,227.97 267.21,229.06 267.74,230.29 C268.28,231.52 268.61,232.22 269.52,233.9 C270.43,235.58 271.93,238.16 273.2,240.38 C274.47,242.6 275.81,244.92 277.15,247.21 C278.49,249.5 279.9,251.91 281.25,254.12 C282.59,256.33 283.85,258.6 285.19,260.49 C286.53,262.38 288.08,264.11 289.29,265.48 C290.5,266.85 291.01,267.45 292.47,268.7 C293.92,269.96 295.79,271.57 298.02,273 C300.25,274.43 303.29,276.12 305.87,277.3 C308.46,278.48 310.98,279.29 313.53,280.06 C316.09,280.83 318.38,281.33 321.19,281.9 C324,282.48 327.13,283.07 330.38,283.52 C333.64,283.96 337.41,284.31 340.73,284.59 C344.04,284.87 348.7,285.1 350.3,285.2" fill="none" stroke="#cdcdd2" stroke-width="1.15"/>
<path d="M235.4,290.5 C235.72,290.37 236.68,290.22 237.31,289.74 C237.95,289.25 238.4,289.1 239.23,287.6 C240.06,286.1 241.34,283.23 242.29,280.73 C243.25,278.22 244.18,275.57 244.97,272.55 C245.77,269.54 246.44,265.94 247.04,262.63 C247.64,259.32 248.05,256.07 248.58,252.7 C249.1,249.33 249.53,246.4 250.18,242.39 C250.83,238.38 251.75,232.02 252.48,228.64 C253.21,225.27 253.89,223.81 254.55,222.15 C255.21,220.5 255.76,219.56 256.47,218.72 C257.17,217.88 258,217.24 258.76,217.11 C259.53,216.98 260.3,217.31 261.06,217.95 C261.83,218.59 262.53,219.58 263.36,220.95 C264.19,222.33 265.34,224.66 266.04,226.19 C266.74,227.72 267,228.83 267.57,230.11 C268.15,231.39 268.55,232.16 269.49,233.87 C270.43,235.58 271.93,238.16 273.2,240.38 C274.48,242.61 275.81,244.92 277.15,247.21 C278.49,249.5 279.9,251.91 281.25,254.12 C282.59,256.33 283.85,258.6 285.19,260.49 C286.53,262.38 288.08,264.11 289.29,265.48 C290.5,266.85 291.01,267.45 292.47,268.7 C293.92,269.96 295.79,271.57 298.02,273 C300.25,274.43 303.29,276.12 305.87,277.3 C308.46,278.48 310.98,279.29 313.53,280.06 C316.09,280.83 318.38,281.33 321.19,281.9 C324,282.48 327.13,283.07 330.38,283.52 C333.64,283.96 337.41,284.31 340.73,284.59 C344.04,284.87 348.7,285.1 350.3,285.2" fill="none" stroke="#2e58a0" stroke-width="1.15"/>
<path d="M235.21,290.5 C235.53,290.37 236.49,290.22 237.12,289.73 C237.76,289.25 238.21,289.09 239.04,287.58 C239.87,286.07 241.15,283.2 242.1,280.68 C243.06,278.16 243.99,275.5 244.78,272.46 C245.58,269.43 246.25,265.81 246.85,262.49 C247.45,259.16 247.86,255.9 248.38,252.51 C248.91,249.12 249.34,246.18 249.99,242.15 C250.64,238.12 251.56,231.72 252.29,228.33 C253.02,224.94 253.69,223.47 254.36,221.81 C255.02,220.15 255.57,219.2 256.27,218.36 C256.98,217.51 257.81,216.87 258.57,216.74 C259.34,216.62 260.1,216.94 260.87,217.59 C261.64,218.24 262.35,219.25 263.2,220.66 C264.04,222.06 265.22,224.47 265.94,226.03 C266.66,227.59 266.93,228.72 267.51,230.02 C268.1,231.33 268.53,232.13 269.48,233.86 C270.43,235.59 271.92,238.16 273.2,240.38 C274.48,242.61 275.81,244.92 277.15,247.21 C278.49,249.5 279.9,251.91 281.25,254.12 C282.59,256.33 283.85,258.6 285.19,260.49 C286.53,262.38 288.08,264.11 289.29,265.48 C290.5,266.85 291.01,267.45 292.47,268.7 C293.92,269.96 295.79,271.57 298.02,273 C300.25,274.43 303.29,276.12 305.87,277.3 C308.46,278.48 310.98,279.29 313.53,280.06 C316.09,280.83 318.38,281.33 321.19,281.9 C324,282.48 327.13,283.07 330.38,283.52 C333.64,283.96 337.41,284.31 340.73,284.59 C344.04,284.87 348.7,285.1 350.3,285.2" fill="none" stroke="#3a7560" stroke-width="1.15"/>
<path d="M235.78,290.5 C236.1,290.38 237.06,290.24 237.7,289.78 C238.34,289.32 238.78,289.18 239.61,287.76 C240.44,286.34 241.72,283.63 242.68,281.27 C243.63,278.9 244.57,276.4 245.36,273.55 C246.15,270.7 246.83,267.29 247.43,264.17 C248.03,261.04 248.43,257.97 248.96,254.79 C249.48,251.6 249.92,248.84 250.57,245.05 C251.22,241.26 252.14,235.25 252.86,232.06 C253.59,228.88 254.27,227.49 254.93,225.93 C255.6,224.37 256.15,223.48 256.85,222.68 C257.55,221.89 258.38,221.29 259.15,221.17 C259.91,221.05 260.69,221.45 261.44,221.96 C262.2,222.47 262.89,223.22 263.68,224.22 C264.48,225.22 265.56,226.82 266.23,227.96 C266.9,229.11 267.14,230.1 267.69,231.11 C268.23,232.12 268.59,232.48 269.51,234.03 C270.43,235.57 271.93,238.18 273.2,240.38 C274.48,242.58 275.81,244.92 277.15,247.21 C278.49,249.5 279.9,251.91 281.25,254.12 C282.59,256.33 283.85,258.6 285.19,260.49 C286.53,262.38 288.08,264.11 289.29,265.48 C290.5,266.85 291.01,267.45 292.47,268.7 C293.92,269.96 295.79,271.57 298.02,273 C300.25,274.43 303.29,276.12 305.87,277.3 C308.46,278.48 310.98,279.29 313.53,280.06 C316.09,280.83 318.38,281.33 321.19,281.9 C324,282.48 327.13,283.07 330.38,283.52 C333.64,283.96 337.41,284.31 340.73,284.59 C344.04,284.87 348.7,285.1 350.3,285.2" fill="none" stroke="#7cbf4c" stroke-width="1.15"/>
<path d="M236.55,290.5 C236.87,290.38 237.83,290.24 238.46,289.79 C239.1,289.35 239.55,289.21 240.38,287.82 C241.21,286.43 242.49,283.78 243.44,281.46 C244.4,279.14 245.33,276.7 246.12,273.91 C246.92,271.12 247.59,267.79 248.19,264.73 C248.79,261.67 249.2,258.67 249.72,255.55 C250.25,252.43 250.68,249.72 251.33,246.02 C251.98,242.31 252.9,236.42 253.63,233.31 C254.36,230.19 255.04,228.83 255.7,227.3 C256.36,225.77 256.91,224.9 257.61,224.13 C258.32,223.35 259.15,222.76 259.91,222.64 C260.68,222.53 261.47,222.96 262.21,223.42 C262.95,223.88 263.6,224.54 264.34,225.41 C265.07,226.27 266.02,227.6 266.61,228.61 C267.21,229.62 267.43,230.56 267.92,231.47 C268.41,232.39 268.66,232.6 269.54,234.09 C270.43,235.57 271.94,238.19 273.2,240.38 C274.47,242.57 275.81,244.92 277.15,247.21 C278.49,249.5 279.9,251.91 281.25,254.12 C282.59,256.33 283.85,258.6 285.19,260.49 C286.53,262.38 288.08,264.11 289.29,265.48 C290.5,266.85 291.01,267.45 292.47,268.7 C293.92,269.96 295.79,271.57 298.02,273 C300.25,274.43 303.29,276.12 305.87,277.3 C308.46,278.48 310.98,279.29 313.53,280.06 C316.09,280.83 318.38,281.33 321.19,281.9 C324,282.48 327.13,283.07 330.38,283.52 C333.64,283.96 337.41,284.31 340.73,284.59 C344.04,284.87 348.7,285.1 350.3,285.2" fill="none" stroke="#f0c030" stroke-width="1.15"/>
<line x1="395.5" y1="211.2" x2="395.5" y2="290.8" stroke="#111" stroke-width="1.1" />
<line x1="392.3" y1="290.5" x2="395.3" y2="290.5" stroke="#111" stroke-width="0.9" />
<text x="389.1" y="292.75" font-size="7" text-anchor="end" fill="#1e1e1e" textLength="3.45" lengthAdjust="spacingAndGlyphs"  stroke="#1e1e1e">0</text>
<line x1="392.3" y1="275.5" x2="395.3" y2="275.5" stroke="#111" stroke-width="0.9" />
<text x="389.1" y="277.45" font-size="7" text-anchor="end" fill="#1e1e1e" textLength="6.9" lengthAdjust="spacingAndGlyphs"  stroke="#1e1e1e">10</text>
<line x1="392.3" y1="259.5" x2="395.3" y2="259.5" stroke="#111" stroke-width="0.9" />
<text x="389.1" y="262.15" font-size="7" text-anchor="end" fill="#1e1e1e" textLength="6.9" lengthAdjust="spacingAndGlyphs"  stroke="#1e1e1e">20</text>
<line x1="392.3" y1="244.5" x2="395.3" y2="244.5" stroke="#111" stroke-width="0.9" />
<text x="389.1" y="246.85" font-size="7" text-anchor="end" fill="#1e1e1e" textLength="6.9" lengthAdjust="spacingAndGlyphs"  stroke="#1e1e1e">30</text>
<line x1="392.3" y1="229.5" x2="395.3" y2="229.5" stroke="#111" stroke-width="0.9" />
<text x="389.1" y="231.55" font-size="7" text-anchor="end" fill="#1e1e1e" textLength="6.9" lengthAdjust="spacingAndGlyphs"  stroke="#1e1e1e">40</text>
<line x1="392.3" y1="213.5" x2="395.3" y2="213.5" stroke="#111" stroke-width="0.9" />
<text x="389.1" y="216.25" font-size="7" text-anchor="end" fill="#1e1e1e" textLength="6.9" lengthAdjust="spacingAndGlyphs"  stroke="#1e1e1e">50</text>
<line x1="394.8" y1="290.5" x2="512" y2="290.5" stroke="#111" stroke-width="1.1" />
<line x1="395.5" y1="290.3" x2="395.5" y2="293.3" stroke="#111" stroke-width="0.9" />
<text x="395.3" y="301.6" font-size="6.8" text-anchor="middle" fill="#1e1e1e" textLength="3.4" lengthAdjust="spacingAndGlyphs"  stroke="#1e1e1e">0</text>
<line x1="420.5" y1="290.3" x2="420.5" y2="293.3" stroke="#111" stroke-width="0.9" />
<text x="420.7" y="301.6" font-size="6.8" text-anchor="middle" fill="#1e1e1e" textLength="6.8" lengthAdjust="spacingAndGlyphs"  stroke="#1e1e1e">20</text>
<line x1="446.5" y1="290.3" x2="446.5" y2="293.3" stroke="#111" stroke-width="0.9" />
<text x="446.1" y="301.6" font-size="6.8" text-anchor="middle" fill="#1e1e1e" textLength="6.8" lengthAdjust="spacingAndGlyphs"  stroke="#1e1e1e">40</text>
<line x1="471.5" y1="290.3" x2="471.5" y2="293.3" stroke="#111" stroke-width="0.9" />
<text x="471.5" y="301.6" font-size="6.8" text-anchor="middle" fill="#1e1e1e" textLength="6.8" lengthAdjust="spacingAndGlyphs"  stroke="#1e1e1e">60</text>
<line x1="496.5" y1="290.3" x2="496.5" y2="293.3" stroke="#111" stroke-width="0.9" />
<text x="496.9" y="301.6" font-size="6.8" text-anchor="middle" fill="#1e1e1e" textLength="6.8" lengthAdjust="spacingAndGlyphs"  stroke="#1e1e1e">80</text>
<line x1="408.5" y1="290.3" x2="408.5" y2="292.1" stroke="#111" stroke-width="0.9" />
<line x1="433.5" y1="290.3" x2="433.5" y2="292.1" stroke="#111" stroke-width="0.9" />
<line x1="458.5" y1="290.3" x2="458.5" y2="292.1" stroke="#111" stroke-width="0.9" />
<line x1="484.5" y1="290.3" x2="484.5" y2="292.1" stroke="#111" stroke-width="0.9" />
<line x1="509.5" y1="290.3" x2="509.5" y2="292.1" stroke="#111" stroke-width="0.9" />
<text x="454" y="206.2" font-size="8.9" text-anchor="middle" fill="#1e1e1e" textLength="80.7" lengthAdjust="spacingAndGlyphs"  stroke="#1e1e1e">0.5 pM Tissue Factor</text>
<text x="376.1" y="250.2" font-size="8.4" text-anchor="middle" fill="#1e1e1e" transform="rotate(-90 376.1 250.2)" textLength="46.4" lengthAdjust="spacingAndGlyphs" stroke="#1e1e1e">Thrombin (nM)</text>
<text x="454" y="313.9" font-size="8.6" text-anchor="middle" fill="#1e1e1e" textLength="32.7" lengthAdjust="spacingAndGlyphs"  stroke="#1e1e1e">Time (min)</text>
<line x1="479" y1="213.5" x2="487.4" y2="213.5" stroke="#cdcdd2" stroke-width="1.1" />
<text x="490" y="215.7" font-size="6" text-anchor="start" fill="#1e1e1e" textLength="17.41" lengthAdjust="spacingAndGlyphs"  stroke="#1e1e1e">Vehicle</text>
<line x1="479" y1="222.5" x2="487.4" y2="222.5" stroke="#f0c030" stroke-width="1.1" />
<text x="490" y="224.8" font-size="6" text-anchor="start" fill="#1e1e1e" textLength="22.21" lengthAdjust="spacingAndGlyphs"  stroke="#1e1e1e">pdC1INH</text>
<line x1="479" y1="231.5" x2="487.4" y2="231.5" stroke="#3a7560" stroke-width="1.1" />
<text x="490" y="233.5" font-size="6" text-anchor="start" fill="#1e1e1e" textLength="8.4" lengthAdjust="spacingAndGlyphs"  stroke="#1e1e1e">WT</text>
<line x1="479" y1="240.5" x2="487.4" y2="240.5" stroke="#2e58a0" stroke-width="1.1" />
<text x="490" y="242.5" font-size="6" text-anchor="start" fill="#1e1e1e" textLength="20.4" lengthAdjust="spacingAndGlyphs"  stroke="#1e1e1e">SMTR/V</text>
<line x1="479" y1="249.5" x2="487.4" y2="249.5" stroke="#7cbf4c" stroke-width="1.1" />
<text x="490" y="251.5" font-size="6" text-anchor="start" fill="#1e1e1e" textLength="18.61" lengthAdjust="spacingAndGlyphs"  stroke="#1e1e1e">SLLR/V</text>
<line x1="479" y1="258.5" x2="487.4" y2="258.5" stroke="#bd1a44" stroke-width="1.1" />
<text x="491.6" y="260.2" font-size="6" text-anchor="start" fill="#1e1e1e" textLength="10.5" lengthAdjust="spacingAndGlyphs"  stroke="#1e1e1e">Pitts</text>
<path d="M395.3,290.3 C395.72,290.2 396.99,290.02 397.84,289.69 C398.69,289.36 399.53,289.03 400.38,288.31 C401.23,287.6 402.07,286.65 402.92,285.4 C403.77,284.15 404.61,282.6 405.46,280.81 C406.31,279.03 407.15,276.73 408,274.69 C408.85,272.65 409.69,270.51 410.54,268.57 C411.39,266.64 412.23,264.7 413.08,263.07 C413.93,261.43 414.77,259.9 415.62,258.78 C416.47,257.66 417.42,256.89 418.16,256.33 C418.9,255.77 419.54,255.59 420.06,255.42 C420.59,255.24 420.7,255.24 421.34,255.26 C421.97,255.29 423.09,255.37 423.88,255.57 C424.66,255.77 425.02,256 426.03,256.49 C427.05,256.97 428.64,257.69 429.97,258.48 C431.3,259.27 433.04,260.54 434.04,261.23 C435.03,261.92 434.95,261.92 435.94,262.61 C436.93,263.3 438.71,264.47 440,265.36 C441.3,266.25 442.46,267.09 443.69,267.96 C444.91,268.83 446.08,269.72 447.37,270.56 C448.66,271.4 450.16,272.25 451.43,273.01 C452.7,273.78 453.72,274.46 454.99,275.15 C456.26,275.84 457.09,276.22 459.05,277.14 C461.02,278.06 463.99,279.54 466.8,280.66 C469.62,281.78 473.05,282.98 475.94,283.87 C478.84,284.77 480.71,285.33 484.2,286.02 C487.69,286.7 492.67,287.5 496.9,288 C501.13,288.51 507.48,288.9 509.6,289.08" fill="none" stroke="#2e58a0" stroke-width="1.15"/>
<path d="M395.3,290.3 C395.72,290.12 396.99,289.89 397.84,289.23 C398.69,288.57 399.53,287.62 400.38,286.32 C401.23,285.02 402.14,283.24 402.92,281.43 C403.7,279.62 404.23,277.86 405.08,275.46 C405.93,273.06 406.94,269.85 408,267.04 C409.06,264.24 410.26,261.03 411.43,258.63 C412.59,256.23 414.07,253.96 414.99,252.66 C415.9,251.36 416.25,251.21 416.89,250.83 C417.52,250.44 418.16,250.37 418.8,250.37 C419.43,250.37 419.96,250.55 420.7,250.83 C421.44,251.11 422.35,251.59 423.24,252.05 C424.13,252.51 424.91,252.71 426.03,253.58 C427.16,254.45 428.64,255.98 429.97,257.25 C431.3,258.53 433.04,260.26 434.04,261.23 C435.03,262.2 434.95,262.12 435.94,263.07 C436.93,264.01 438.71,265.74 440,266.89 C441.3,268.04 441.78,268.47 443.69,269.95 C445.59,271.43 448.87,274.08 451.43,275.76 C454,277.45 456.49,278.77 459.05,280.05 C461.62,281.32 463.99,282.47 466.8,283.42 C469.62,284.36 473.05,285.07 475.94,285.71 C478.84,286.35 480.71,286.76 484.2,287.24 C487.69,287.72 492.67,288.26 496.9,288.62 C501.13,288.97 507.48,289.25 509.6,289.38" fill="none" stroke="#7cbf4c" stroke-width="1.15"/>
<path d="M395.3,290.3 C395.51,290.05 396.06,289.94 396.57,288.77 C397.08,287.6 397.56,285.68 398.35,283.26 C399.13,280.84 400.42,277.27 401.27,274.24 C402.12,271.2 402.79,268.12 403.43,265.06 C404.06,262 404.55,259.06 405.08,255.88 C405.61,252.69 406.12,248.74 406.6,245.93 C407.09,243.12 407.6,241.03 408,239.05 C408.4,237.06 408.59,235.6 409.02,234 C409.44,232.39 409.97,230.71 410.54,229.41 C411.11,228.11 411.87,226.83 412.44,226.19 C413.02,225.56 413.44,225.56 413.97,225.58 C414.5,225.61 415.03,225.84 415.62,226.35 C416.21,226.86 416.89,227.77 417.53,228.64 C418.16,229.51 418.58,229.99 419.43,231.55 C420.28,233.1 421.67,236.04 422.61,237.97 C423.54,239.91 423.68,240.37 425.02,243.18 C426.35,245.98 429.1,251.87 430.61,254.8 C432.11,257.74 433.15,259.06 434.04,260.77 C434.92,262.48 434.95,263.5 435.94,265.06 C436.93,266.61 438.71,268.7 440,270.1 C441.3,271.51 441.78,271.91 443.69,273.47 C445.59,275.03 448.87,277.78 451.43,279.44 C454,281.09 456.49,282.32 459.05,283.42 C461.62,284.51 463.99,285.33 466.8,286.02 C469.62,286.7 473.05,287.11 475.94,287.55 C478.84,287.98 480.71,288.31 484.2,288.62 C487.69,288.92 492.67,289.18 496.9,289.38 C501.13,289.59 507.48,289.76 509.6,289.84" fill="none" stroke="#3a7560" stroke-width="1.15"/>
<path d="M395.3,290.3 C395.51,290.05 396.06,289.89 396.57,288.77 C397.08,287.65 397.56,285.84 398.35,283.57 C399.13,281.3 400.42,277.96 401.27,275.15 C402.12,272.35 402.79,269.52 403.43,266.74 C404.06,263.96 404.59,261.26 405.08,258.48 C405.57,255.7 405.93,252.66 406.35,250.06 C406.77,247.46 407.17,245.16 407.62,242.87 C408.06,240.58 408.47,238.38 409.02,236.29 C409.57,234.2 410.31,231.7 410.92,230.32 C411.53,228.95 412.19,228.49 412.7,228.03 C413.21,227.57 413.48,227.49 413.97,227.57 C414.46,227.65 415.03,227.9 415.62,228.49 C416.21,229.07 416.89,230.12 417.53,231.09 C418.16,232.06 418.58,232.8 419.43,234.3 C420.28,235.81 421.67,238.38 422.61,240.12 C423.54,241.85 423.68,242.11 425.02,244.71 C426.35,247.31 429.1,252.97 430.61,255.72 C432.11,258.48 433.15,259.62 434.04,261.23 C434.92,262.84 434.95,263.83 435.94,265.36 C436.93,266.89 438.71,269.06 440,270.41 C441.3,271.76 441.78,271.97 443.69,273.47 C445.59,274.97 448.87,277.78 451.43,279.44 C454,281.09 456.49,282.32 459.05,283.42 C461.62,284.51 463.99,285.33 466.8,286.02 C469.62,286.7 473.05,287.11 475.94,287.55 C478.84,287.98 480.71,288.31 484.2,288.62 C487.69,288.92 492.67,289.18 496.9,289.38 C501.13,289.59 507.48,289.76 509.6,289.84" fill="none" stroke="#cdcdd2" stroke-width="1.15"/>
<path d="M395.3,290.3 C395.62,289.94 396.42,289.28 397.2,288.16 C397.99,287.04 399.11,285.74 400,283.57 C400.89,281.4 401.69,277.96 402.54,275.15 C403.39,272.35 404.36,269.52 405.08,266.74 C405.8,263.96 406.31,261.26 406.86,258.48 C407.41,255.7 407.87,252.53 408.38,250.06 C408.89,247.59 409.4,245.65 409.91,243.64 C410.41,241.62 410.77,239.94 411.43,237.97 C412.09,236.01 413.08,233.18 413.84,231.85 C414.6,230.53 415.39,230.22 416,230.02 C416.61,229.81 416.95,230.15 417.53,230.63 C418.1,231.11 418.69,231.78 419.43,232.93 C420.17,234.07 421.04,235.76 421.97,237.52 C422.9,239.27 423.58,240.65 425.02,243.48 C426.46,246.31 429.1,251.62 430.61,254.5 C432.11,257.38 433.15,259.22 434.04,260.77 C434.92,262.33 434.95,262.56 435.94,263.83 C436.93,265.11 438.71,267.15 440,268.42 C441.3,269.7 441.78,269.95 443.69,271.48 C445.59,273.01 448.87,275.82 451.43,277.6 C454,279.39 456.49,280.92 459.05,282.19 C461.62,283.47 463.99,284.41 466.8,285.25 C469.62,286.09 473.05,286.73 475.94,287.24 C478.84,287.75 480.71,287.98 484.2,288.31 C487.69,288.64 492.67,289 496.9,289.23 C501.13,289.46 507.48,289.61 509.6,289.69" fill="none" stroke="#f0c030" stroke-width="1.15"/>
<line x1="395.3" y1="290.5" x2="509.6" y2="290.5" stroke="#bd1a44" stroke-width="1.2" />
<line x1="235.5" y1="373.4" x2="235.5" y2="453.95" stroke="#111" stroke-width="1.1" />
<path d="M233.3,447.5 L237.6,444.9 M233.3,449.7 L237.6,447.1" stroke="#111" stroke-width="1.1" fill="none"/>
<line x1="232.45" y1="427.5" x2="235.45" y2="427.5" stroke="#111" stroke-width="0.9" />
<text x="229.25" y="430.05" font-size="7" text-anchor="end" fill="#1e1e1e" textLength="8.65" lengthAdjust="spacingAndGlyphs"  stroke="#1e1e1e">2.0</text>
<line x1="232.45" y1="401.5" x2="235.45" y2="401.5" stroke="#111" stroke-width="0.9" />
<text x="229.25" y="404.4" font-size="7" text-anchor="end" fill="#1e1e1e" textLength="8.65" lengthAdjust="spacingAndGlyphs"  stroke="#1e1e1e">2.5</text>
<line x1="232.45" y1="376.5" x2="235.45" y2="376.5" stroke="#111" stroke-width="0.9" />
<text x="229.25" y="378.75" font-size="7" text-anchor="end" fill="#1e1e1e" textLength="8.65" lengthAdjust="spacingAndGlyphs"  stroke="#1e1e1e">3.0</text>
<line x1="232.45" y1="453.5" x2="235.45" y2="453.5" stroke="#111" stroke-width="0.9" />
<text x="229.25" y="455.9" font-size="7" text-anchor="end" fill="#1e1e1e" textLength="3.45" lengthAdjust="spacingAndGlyphs"  stroke="#1e1e1e">0</text>
<line x1="234.95" y1="453.5" x2="350.8" y2="453.5" stroke="#111" stroke-width="1.1" />
<line x1="248.5" y1="453.45" x2="248.5" y2="456.45" stroke="#111" stroke-width="0.9" />
<text x="250.65" y="462.65" font-size="7" text-anchor="end" fill="#1e1e1e" transform="rotate(-45 250.65 462.65)" textLength="19.67" lengthAdjust="spacingAndGlyphs"  stroke="#1e1e1e">Vehicle</text>
<line x1="266.5" y1="453.45" x2="266.5" y2="456.45" stroke="#111" stroke-width="0.9" />
<text x="268.85" y="462.65" font-size="7" text-anchor="end" fill="#1e1e1e" transform="rotate(-45 268.85 462.65)" textLength="25.09" lengthAdjust="spacingAndGlyphs"  stroke="#1e1e1e">pdC1INH</text>
<line x1="284.5" y1="453.45" x2="284.5" y2="456.45" stroke="#111" stroke-width="0.9" />
<text x="287.05" y="462.65" font-size="7" text-anchor="end" fill="#1e1e1e" transform="rotate(-45 287.05 462.65)" textLength="9.48" lengthAdjust="spacingAndGlyphs"  stroke="#1e1e1e">WT</text>
<line x1="302.5" y1="453.45" x2="302.5" y2="456.45" stroke="#111" stroke-width="0.9" />
<text x="305.25" y="462.65" font-size="7" text-anchor="end" fill="#1e1e1e" transform="rotate(-45 305.25 462.65)" textLength="23.04" lengthAdjust="spacingAndGlyphs"  stroke="#1e1e1e">SMTR/V</text>
<line x1="320.5" y1="453.45" x2="320.5" y2="456.45" stroke="#111" stroke-width="0.9" />
<text x="323.45" y="462.65" font-size="7" text-anchor="end" fill="#1e1e1e" transform="rotate(-45 323.45 462.65)" textLength="21.02" lengthAdjust="spacingAndGlyphs"  stroke="#1e1e1e">SLLR/V</text>
<line x1="339.5" y1="453.45" x2="339.5" y2="456.45" stroke="#111" stroke-width="0.9" />
<text x="341.65" y="462.65" font-size="7" text-anchor="end" fill="#1e1e1e" transform="rotate(-45 341.65 462.65)" textLength="11.86" lengthAdjust="spacingAndGlyphs"  stroke="#1e1e1e">Pitts</text>
<line x1="284.2" y1="482.4" x2="338.3" y2="482.4" stroke="#707070" stroke-width="1.7" />
<text x="311" y="492.2" font-size="6.8" text-anchor="middle" fill="#1e1e1e"  stroke="#1e1e1e">α1AT</text>
<text x="214.6" y="413.2" font-size="8.3" text-anchor="middle" fill="#1e1e1e" transform="rotate(-90 214.6 413.2)" textLength="59.5" lengthAdjust="spacingAndGlyphs" stroke="#1e1e1e">Clotting time (ratio)</text>
<text x="292.85" y="368.5" font-size="9.1" text-anchor="middle" fill="#1e1e1e" textLength="59.5" lengthAdjust="spacingAndGlyphs"  stroke="#1e1e1e">APC Resistance</text>
<line x1="247.5" y1="398.8" x2="247.5" y2="412" stroke="#222" stroke-width="1" />
<line x1="245" y1="398.5" x2="250.2" y2="398.5" stroke="#222" stroke-width="1" />
<line x1="245" y1="412.5" x2="250.2" y2="412.5" stroke="#222" stroke-width="1" />
<path d="M244.4,392.3 l2.3,2.3 l-2.3,2.3 l-2.3,-2.3z" fill="#fff" stroke="#000" stroke-width="0.85"/>
<path d="M250.4,398.1 l2.3,2.3 l-2.3,2.3 l-2.3,-2.3z" fill="#fff" stroke="#000" stroke-width="0.85"/>
<path d="M251.4,402.9 l2.3,2.3 l-2.3,2.3 l-2.3,-2.3z" fill="#fff" stroke="#000" stroke-width="0.85"/>
<path d="M243.4,404.1 l2.3,2.3 l-2.3,2.3 l-2.3,-2.3z" fill="#fff" stroke="#000" stroke-width="0.85"/>
<path d="M245.8,407.7 l2.3,2.3 l-2.3,2.3 l-2.3,-2.3z" fill="#fff" stroke="#000" stroke-width="0.85"/>
<path d="M248.8,407.9 l2.3,2.3 l-2.3,2.3 l-2.3,-2.3z" fill="#fff" stroke="#000" stroke-width="0.85"/>
<line x1="241.6" y1="405.5" x2="253.6" y2="405.5" stroke="#222" stroke-width="1" />
<line x1="265.5" y1="399.6" x2="265.5" y2="416.4" stroke="#222" stroke-width="1" />
<line x1="263.2" y1="399.5" x2="268.4" y2="399.5" stroke="#222" stroke-width="1" />
<line x1="263.2" y1="416.5" x2="268.4" y2="416.5" stroke="#222" stroke-width="1" />
<rect x="264.15" y="392.95" width="3.7" height="3.7" fill="#f5c518" stroke="#3a3a2a" stroke-width="0.65"/>
<rect x="260.95" y="400.95" width="3.7" height="3.7" fill="#f5c518" stroke="#3a3a2a" stroke-width="0.65"/>
<rect x="266.75" y="401.75" width="3.7" height="3.7" fill="#f5c518" stroke="#3a3a2a" stroke-width="0.65"/>
<rect x="260.55" y="410.55" width="3.7" height="3.7" fill="#f5c518" stroke="#3a3a2a" stroke-width="0.65"/>
<rect x="267.35" y="412.55" width="3.7" height="3.7" fill="#f5c518" stroke="#3a3a2a" stroke-width="0.65"/>
<rect x="264.15" y="415.35" width="3.7" height="3.7" fill="#f5c518" stroke="#3a3a2a" stroke-width="0.65"/>
<line x1="259.8" y1="407.5" x2="271.8" y2="407.5" stroke="#222" stroke-width="1" />
<line x1="284.5" y1="399.2" x2="284.5" y2="404.4" stroke="#222" stroke-width="1" />
<line x1="281.4" y1="399.5" x2="286.6" y2="399.5" stroke="#222" stroke-width="1" />
<line x1="281.4" y1="404.5" x2="286.6" y2="404.5" stroke="#222" stroke-width="1" />
<circle cx="277.8" cy="397.6" r="1.85" fill="#2e7a4e" stroke="#000" stroke-width="0.55"/>
<circle cx="289.8" cy="399.4" r="1.85" fill="#2e7a4e" stroke="#000" stroke-width="0.55"/>
<circle cx="280.6" cy="402" r="1.85" fill="#2e7a4e" stroke="#000" stroke-width="0.55"/>
<circle cx="287.6" cy="403" r="1.85" fill="#2e7a4e" stroke="#000" stroke-width="0.55"/>
<circle cx="282" cy="405.8" r="1.85" fill="#2e7a4e" stroke="#000" stroke-width="0.55"/>
<circle cx="285.6" cy="405.6" r="1.85" fill="#2e7a4e" stroke="#000" stroke-width="0.55"/>
<line x1="278" y1="402.5" x2="290" y2="402.5" stroke="#222" stroke-width="1" />
<line x1="301.5" y1="397" x2="301.5" y2="412.6" stroke="#222" stroke-width="1" />
<line x1="299.2" y1="397.5" x2="304.4" y2="397.5" stroke="#222" stroke-width="1" />
<line x1="299.2" y1="412.5" x2="304.4" y2="412.5" stroke="#222" stroke-width="1" />
<circle cx="301.8" cy="392.2" r="1.85" fill="#1e3f8e" stroke="#000" stroke-width="0.55"/>
<circle cx="298.8" cy="401.2" r="1.85" fill="#1e3f8e" stroke="#000" stroke-width="0.55"/>
<circle cx="304.8" cy="403.6" r="1.85" fill="#1e3f8e" stroke="#000" stroke-width="0.55"/>
<circle cx="298.8" cy="409" r="1.85" fill="#1e3f8e" stroke="#000" stroke-width="0.55"/>
<circle cx="301.6" cy="413.2" r="1.85" fill="#1e3f8e" stroke="#000" stroke-width="0.55"/>
<circle cx="305.2" cy="411.2" r="1.85" fill="#1e3f8e" stroke="#000" stroke-width="0.55"/>
<line x1="295.8" y1="404.5" x2="307.8" y2="404.5" stroke="#222" stroke-width="1" />
<line x1="320.5" y1="401.8" x2="320.5" y2="413.8" stroke="#222" stroke-width="1" />
<line x1="317.6" y1="401.5" x2="322.8" y2="401.5" stroke="#222" stroke-width="1" />
<line x1="317.6" y1="413.5" x2="322.8" y2="413.5" stroke="#222" stroke-width="1" />
<circle cx="316.8" cy="401.2" r="1.85" fill="#6cc03a" stroke="#000" stroke-width="0.55"/>
<circle cx="323.4" cy="399.6" r="1.85" fill="#6cc03a" stroke="#000" stroke-width="0.55"/>
<circle cx="320.4" cy="404.2" r="1.85" fill="#6cc03a" stroke="#000" stroke-width="0.55"/>
<circle cx="317.2" cy="411.4" r="1.85" fill="#6cc03a" stroke="#000" stroke-width="0.55"/>
<circle cx="320.2" cy="416.4" r="1.85" fill="#6cc03a" stroke="#000" stroke-width="0.55"/>
<circle cx="323.8" cy="415" r="1.85" fill="#6cc03a" stroke="#000" stroke-width="0.55"/>
<line x1="314.2" y1="407.5" x2="326.2" y2="407.5" stroke="#222" stroke-width="1" />
<line x1="338.5" y1="421" x2="338.5" y2="425.8" stroke="#222" stroke-width="1" />
<line x1="335.8" y1="421.5" x2="341" y2="421.5" stroke="#222" stroke-width="1" />
<line x1="335.8" y1="425.5" x2="341" y2="425.5" stroke="#222" stroke-width="1" />
<circle cx="332.6" cy="420.4" r="1.85" fill="#c00a28" stroke="#000" stroke-width="0.55"/>
<circle cx="344.2" cy="421" r="1.85" fill="#c00a28" stroke="#000" stroke-width="0.55"/>
<circle cx="341" cy="422.6" r="1.85" fill="#c00a28" stroke="#000" stroke-width="0.55"/>
<circle cx="335.6" cy="424.4" r="1.85" fill="#c00a28" stroke="#000" stroke-width="0.55"/>
<circle cx="336.6" cy="428.4" r="1.85" fill="#c00a28" stroke="#000" stroke-width="0.55"/>
<circle cx="340" cy="428.4" r="1.85" fill="#c00a28" stroke="#000" stroke-width="0.55"/>
<line x1="332.4" y1="424.5" x2="344.4" y2="424.5" stroke="#222" stroke-width="1" />
<text x="338.3" y="414.6" font-size="5.4" text-anchor="middle" fill="#1e1e1e"  stroke="#1e1e1e">†</text>
<rect x="0.5" y="0.5" width="519" height="499" fill="none" stroke="#000" stroke-width="1.2"/>
</svg>
</body></html>
